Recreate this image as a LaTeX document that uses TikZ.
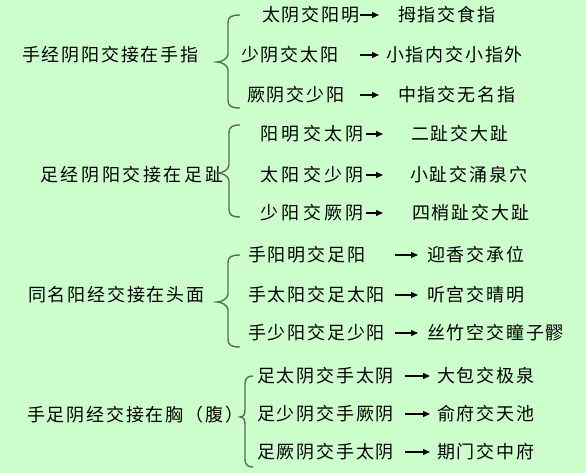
\documentclass[tikz,border=0pt]{standalone}
\usepackage{fontspec}
\newfontfamily\cjk[LetterSpace=10]{Noto Sans CJK SC}
\newfontfamily\cjkw[LetterSpace=14.5]{Noto Sans CJK SC}
\newfontfamily\cjkww[LetterSpace=19]{Noto Sans CJK SC}
\usetikzlibrary{arrows.meta}
\definecolor{bgcol}{RGB}{204,255,204}
\definecolor{bracecol}{RGB}{85,110,85}
\newcommand\mybrace[6]{% #1 xend, #2 xvert, #3 xtip, #4 ytop, #5 ytip, #6 ybot
  \draw[bracestroke] (#1,#4) .. controls (#2+3,#4) and (#2,#4+2) .. (#2,#4+8)
    -- (#2,#5-8) .. controls (#2,#5-3) and (#3+4,#5) .. (#3,#5)
    .. controls (#3+4,#5) and (#2,#5+3) .. (#2,#5+8)
    -- (#2,#6-8) .. controls (#2,#6-2) and (#2+3,#6) .. (#1,#6);}
\begin{document}
\begin{tikzpicture}[x=1pt,y=-1pt,
  txt/.style={font=\cjk\fontsize{18}{18}\selectfont, anchor=west, inner sep=0pt, text=black},
  txtw/.style={txt, font=\cjkw\fontsize{18}{18}\selectfont},
  txtww/.style={txt, font=\cjkww\fontsize{18}{18}\selectfont},
  bracestroke/.style={draw=bracecol, line width=1.4pt},
  arr/.style={-{Triangle[length=7pt,width=6pt]}, line width=1.3pt, draw=black}]
\fill[bgcol] (0,0) rectangle (586,473);
\useasboundingbox (0,0) rectangle (586,473);

% ---------- group 1
\node[txt] (m1) at (22,55) {手经阴阳交接在手指};
\node[txt] (r11) at (262,15) {太阴交阳明};
\node[txt] (r12) at (241,55) {少阴交太阳};
\node[txt] (r13) at (247,95) {厥阴交少阳};
\node[txt] (t11) at (398,15) {拇指交食指};
\node[txt] (t12) at (386,55) {小指内交小指外};
\node[txt] (t13) at (398,95) {中指交无名指};
\mybrace{240}{228}{217}{15}{62}{108}
\foreach \i/\y in {1/15,2/55,3/95}{
  \coordinate (a1\i) at (360,\y); \coordinate (b1\i) at (379,\y);
  \draw[arr] (a1\i) -- (b1\i);}

% ---------- group 2
\node[txtw] (m2) at (40,175) {足经阴阳交接在足趾};
\node[txtww] (r21) at (260,134) {阳明交太阴};
\node[txtww] (r22) at (260,175) {太阳交少阴};
\node[txtww] (r23) at (260,213) {少阳交厥阴};
\node[txt] (t21) at (411,134) {二趾交大趾};
\node[txt] (t22) at (410,175) {小趾交涌泉穴};
\node[txt] (t23) at (412,213) {四梢趾交大趾};
\mybrace{240}{229}{218}{125}{173}{217}
\foreach \i/\y in {1/134,2/175,3/213}{
  \coordinate (a2\i) at (366,\y); \coordinate (b2\i) at (383,\y);
  \draw[arr] (a2\i) -- (b2\i);}

% ---------- group 3
\node[txt] (m3) at (28,295) {同名阳经交接在头面};
\node[txt] (r31) at (248,255) {手阳明交足阳};
\node[txt] (r32) at (248,295) {手太阳交足太阳};
\node[txt] (r33) at (248,333) {手少阳交足少阳};
\node[txt] (t31) at (427,255) {迎香交承位};
\node[txt] (t32) at (427,295) {听宫交晴明};
\node[txt] (t33) at (427,333) {丝竹空交瞳子髎};
\mybrace{240}{228}{217}{255}{302}{347}
\foreach \i/\y in {1/255,2/295,3/333}{
  \coordinate (a3\i) at (395,\y); \coordinate (b3\i) at (418,\y);
  \draw[arr] (a3\i) -- (b3\i);}

% ---------- group 4
\node[txt] (m4) at (27,415) {手足阴经交接在胸（腹）};
\node[txt] (r41) at (257,376) {足太阴交手太阴};
\node[txt] (r42) at (257,414) {足少阴交手厥阴};
\node[txt] (r43) at (257,452) {足厥阴交手太阴};
\node[txt] (t41) at (437,376) {大包交极泉};
\node[txt] (t42) at (437,414) {俞府交天池};
\node[txt] (t43) at (437,452) {期门交中府};
\mybrace{253}{245}{240}{376}{417}{467}
\foreach \i/\y in {1/376,2/414,3/452}{
  \coordinate (a4\i) at (405,\y); \coordinate (b4\i) at (430,\y);
  \draw[arr] (a4\i) -- (b4\i);}
\end{tikzpicture}
\end{document}
